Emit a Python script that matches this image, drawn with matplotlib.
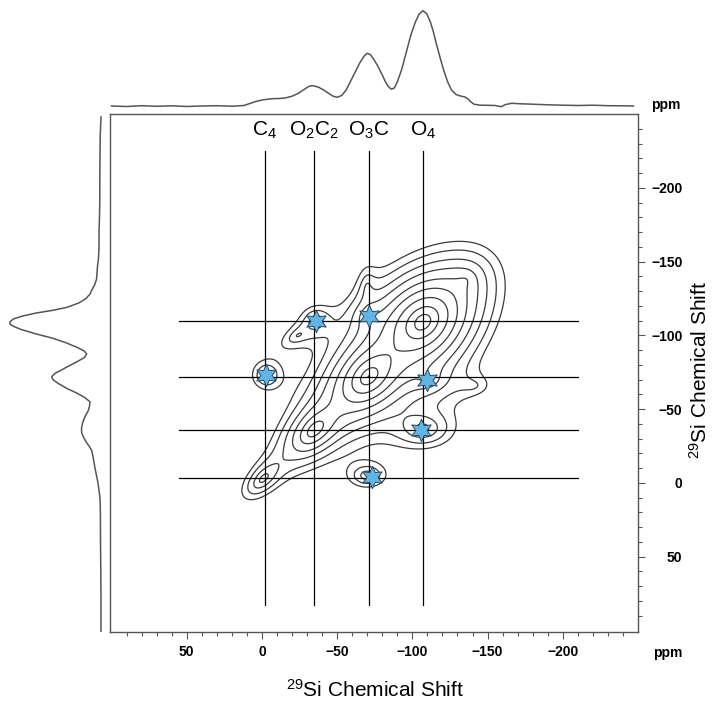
import numpy as np
import matplotlib
matplotlib.use("Agg")
import matplotlib.pyplot as plt
from matplotlib.ticker import FixedLocator

plt.rcParams['font.family'] = ['Liberation Sans', 'DejaVu Sans']
plt.rcParams['mathtext.fontset'] = 'custom'
plt.rcParams['mathtext.rm'] = 'Liberation Sans'
plt.rcParams['mathtext.it'] = 'Liberation Sans'

# 1D projection along F2 (top): shift in ppm, intensity (arb.)
top_ppm = [100, 90, 80, 70, 60, 50, 40, 30, 20, 12, 8, 4, 0, -4, -8, -12, -16,
           -20, -24, -28, -31, -33, -35, -38, -41, -44, -47, -50, -53, -56,
           -59, -62, -65, -68, -70, -72, -74, -77, -80, -82, -84, -86, -88,
           -90, -93, -96, -99, -102, -104.5, -107, -109.5, -112, -114, -116,
           -118.5, -121, -123.5, -126, -129, -132, -135, -137, -139, -141,
           -145, -150, -155, -159, -162, -166, -172, -180, -190, -200, -210,
           -220, -230, -240, -247]
top_int = [0, -0.5, 0.3, -0.3, 0.2, -0.5, 0, 0.3, -0.2, 0.5, 2.5, 4.5, 6, 6.8,
           7.4, 7.5, 8.2, 9.8, 12.5, 16.5, 19.5, 20.3, 20, 18.5, 16, 13, 10,
           8.7, 10.5, 16, 25, 34, 43, 50, 52.7, 51.5, 47.5, 40, 31, 24.5,
           19.5, 16.8, 18, 24, 37, 54, 71, 84, 92, 95.3, 92.5, 84, 74, 62, 48,
           35, 24, 16, 11.5, 10, 9, 7, 4, 1.8, 0.8, 0.7, 0.5, -0.7, 1.5, 2.7,
           2.2, 1.8, 1.2, 0.8, 0.5, 0.8, 0.3, 0.2, 0]

# 1D projection along F1 (left)
left_ppm = [-248, -235, -220, -205, -190, -178, -170, -160, -152, -147, -142,
            -138, -134, -131, -128, -125, -122, -119, -117, -115, -113, -111,
            -109, -107.5, -106, -104, -101, -98, -95, -92, -89.5, -87.5, -85,
            -82, -79, -76, -74, -72, -70, -67.5, -64, -61, -58, -55, -52, -49,
            -45, -41, -37, -34, -31, -28, -25, -22, -18, -14, -10, -5, 0, 5,
            10, 20, 38, 60, 79, 101]
left_int = [0, 0.8, 1, 1.2, 1.2, 1.6, 2, 2, 2.5, 3.5, 4, 4.5, 6.5, 9, 11, 15,
            22, 34, 48, 66, 79, 88, 91, 91, 87, 80, 65, 48, 35, 24.3, 17,
            14.3, 16.5, 24.3, 33, 41, 46.5, 49.3, 48, 43, 34, 24.5, 16.5, 11,
            11.5, 12.7, 16, 18.3, 19.5, 19.3, 17.5, 15, 12, 9.3, 8, 7, 6, 4.5,
            3, 2, 1, 0.6, 0.5, 0.2, 0, 0]

# 2D peak table: F2 shift, F1 shift, amplitude, widths along / across, angle
peak_x = [-107, -71, -35, -1, -135,
          -36, -24, -71, -70, -3, -110, -107, -70, -140]
peak_y = [-109, -72, -36, -3, -137,
          -110, -100, -113, -132, -73, -70, -37, -5, -66]
peak_amp = [1.0, 0.7, 0.3, 0.12, 0.08,
            0.08, 0.06, 0.07, 0.05, 0.1, 0.09, 0.12, 0.1, 0.04]
peak_wu = [16, 15, 14, 12, 15,
           7, 12, 7, 12, 7, 8, 14, 9, 14]
peak_wv = [12, 10, 8, 6, 12,
           7, 6, 6, 5, 7, 6, 9, 6, 8]
peak_ang = [45, 45, 45, 45, 45,
            0, 30, 0, 90, 0, 0, 0, 0, 0]

levels = [0.03, 0.045, 0.068, 0.1, 0.15, 0.22, 0.33, 0.5, 0.72]

# site assignments and correlation lines
site_labels = [r'C$_4$', r'O$_2$C$_2$', r'O$_3$C', r'O$_4$']
site_f2 = [-2, -34.5, -71, -107]
site_f1 = [-3.5, -36, -72, -109.5]

# cross peaks
cross_f2 = [-36, -71, -3, -110, -106, -73]
cross_f1 = [-110, -113, -73, -70, -36, -4]

xs = np.arange(101, -250.5, -0.5)
ys = np.arange(-250, 101.5, 0.5)
X, Y = np.meshgrid(xs, ys)
Z = np.zeros_like(X)
for x0, y0, a, wu, wv, ang in zip(peak_x, peak_y, peak_amp, peak_wu, peak_wv, peak_ang):
    t = np.deg2rad(ang)
    dx, dy = X - x0, Y - y0
    u = dx * np.cos(t) + dy * np.sin(t)
    v = -dx * np.sin(t) + dy * np.cos(t)
    Z += a * np.exp(-np.sqrt((u / wu) ** 2 + (v / wv) ** 2))

fig = plt.figure(figsize=(7.2, 7.04), dpi=100)
ax = fig.add_axes([110 / 720, 72 / 704, 528 / 720, 518 / 704])
ax_top = fig.add_axes([110 / 720, 596 / 704, 528 / 720, 106 / 704], sharex=ax)
ax_left = fig.add_axes([0, 72 / 704, 110 / 720, 518 / 704], sharey=ax)

line_c = '#3a3a3a'
ax.contour(X, Y, Z, levels=levels, colors=line_c, linewidths=0.9)

for xv in site_f2:
    ax.plot([xv, xv], [83, -225], color='k', lw=0.9)
for yv in site_f1:
    ax.plot([55, -210], [yv, yv], color='k', lw=0.9)
for lab, xv in zip(site_labels, site_f2):
    ax.text(xv, -235, lab, ha='center', va='baseline', fontsize=15)

ax.scatter(cross_f2, cross_f1, marker=(6, 1, 0), s=260, color='#62b3e6',
           edgecolors='#2a4a60', linewidths=0.7, zorder=5)

ax.set_xlim(101, -250)
ax.set_ylim(101, -250)
ax.xaxis.set_major_locator(FixedLocator([50, 0, -50, -100, -150, -200]))
ax.xaxis.set_minor_locator(FixedLocator(np.arange(90, -250, -10)))
ax.yaxis.set_major_locator(FixedLocator([50, 0, -50, -100, -150, -200]))
ax.yaxis.set_minor_locator(FixedLocator(np.arange(90, -250, -10)))
ax.tick_params(which='both', direction='out', color='#555555', width=0.8,
               labelsize=10)
ax.tick_params(which='major', length=5)
ax.tick_params(which='minor', length=3)
ax.tick_params(axis='x', pad=4)
ax.tick_params(axis='y', left=False, labelleft=False, right=True,
               labelright=True, pad=27)
ax.tick_params(axis='y', which='minor', left=False, right=True)
for lab in ax.get_xticklabels() + ax.get_yticklabels():
    lab.set_fontweight('bold')
for lab in ax.get_yticklabels():
    lab.set_horizontalalignment('right')
for sp in ax.spines.values():
    sp.set_color('#555555')
    sp.set_linewidth(1.0)

ax_top.plot(top_ppm, top_int, color='#555555', lw=1.1)
ax_top.set_ylim(-2, 104)
ax_top.axis('off')

ax_left.plot(left_int, left_ppm, color='#555555', lw=1.1)
ax_left.set_xlim(101, -9)
ax_left.axis('off')

fig.text(668 / 720, 1 - 653 / 704, 'ppm', ha='center', va='center',
         fontsize=10, fontweight='bold')
fig.text(666 / 720, 1 - 105 / 704, 'ppm', ha='center', va='center',
         fontsize=10, fontweight='bold')
fig.text(375 / 720, 1 - 690 / 704, r'$^{29}$Si Chemical Shift', ha='center',
         va='center', fontsize=15)
fig.text(700 / 720, 1 - 370 / 704, r'$^{29}$Si Chemical Shift', ha='center',
         va='center', fontsize=15, rotation=90)

fig.savefig('out.png', dpi=100)
